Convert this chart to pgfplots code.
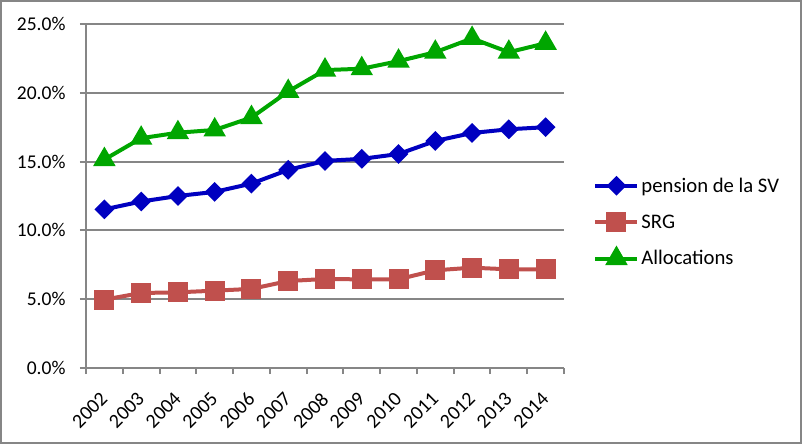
\documentclass[border=0pt]{standalone}
\usepackage{pgfplots}
\pgfplotsset{compat=1.18}
\usepackage{fontspec}
\setmainfont{Carlito}
\definecolor{cblue}{HTML}{0000C0}
\definecolor{cred}{HTML}{C0504D}
\definecolor{cgreen}{HTML}{00A600}
\definecolor{cgray}{HTML}{868686}
\begin{document}
\begin{tikzpicture}
\draw[cgray, line width=2bp] (1bp,1bp) rectangle (801bp,443bp);
\begin{axis}[
  at={(86bp,76bp)}, anchor=south west,
  scale only axis, width=478bp, height=344bp,
  xmin=-0.5, xmax=12.5, ymin=0, ymax=25,
  axis x line*=bottom, axis y line*=left,
  axis line style={cgray, line width=2bp},
  every axis plot/.append style={line width=4bp},
  xtick={0,...,12},
  xticklabels={2002,2003,2004,2005,2006,2007,2008,2009,2010,2011,2012,2013,2014},
  minor xtick={-0.5,0.5,...,12.5},
  major x tick style={draw=none},
  minor tick length=6bp,
  major tick length=6bp,
  xtick align=outside, ytick align=outside,
  tick style={cgray, line width=2bp},
  ytick={0,5,10,15,20,25},
  ymajorgrids,
  grid style={cgray, line width=2bp},
  /pgf/number format/assume math mode=true,
  yticklabel={\pgfmathprintnumber[fixed,fixed zerofill,precision=1]{\tick}\%},
  tick label style={black},
  yticklabel style={xshift=-11bp, font=\fontsize{19.5bp}{22bp}\selectfont},
  xticklabel style={xshift=-5bp, yshift=-17bp, rotate=45, anchor=north east, inner sep=0bp, font=\fontsize{20bp}{22bp}\selectfont},
  legend style={at={(1.055,0.424)}, anchor=west, draw=none, fill=none,
    font=\fontsize{20.7bp}{23bp}\selectfont, row sep=17bp,
    /tikz/every odd column/.append style={column sep=0bp}},
  legend cell align=left,
  legend image code/.code={\draw[mark repeat=2,mark phase=2] plot coordinates {(0bp,0bp) (21bp,0bp) (42bp,0bp)};},
  clip=false,
]
\addplot[cblue, mark=square*, mark size=5bp, mark options={rotate=45, solid}] coordinates {
(0,11.53) (1,12.1) (2,12.5) (3,12.8) (4,13.4) (5,14.4) (6,15.05) (7,15.2) (8,15.55) (9,16.5) (10,17.08) (11,17.35) (12,17.5)};
\addlegendentry{pension de la SV}
\addplot[cred, mark=square*, mark size=8bp, mark options={solid}] coordinates {
(0,4.97) (1,5.45) (2,5.5) (3,5.62) (4,5.75) (5,6.32) (6,6.47) (7,6.44) (8,6.45) (9,7.1) (10,7.29) (11,7.17) (12,7.17)};
\addlegendentry{SRG}
\addplot[cgreen, mark=triangle*, mark size=9bp, mark options={solid}] coordinates {
(0,15.15) (1,16.7) (2,17.1) (3,17.3) (4,18.2) (5,20.1) (6,21.65) (7,21.75) (8,22.3) (9,22.95) (10,23.95) (11,22.95) (12,23.6)};
\addlegendentry{Allocations}
\end{axis}
\pgfresetboundingbox
\useasboundingbox (0,0) rectangle (802bp,444bp);
\end{tikzpicture}
\end{document}
